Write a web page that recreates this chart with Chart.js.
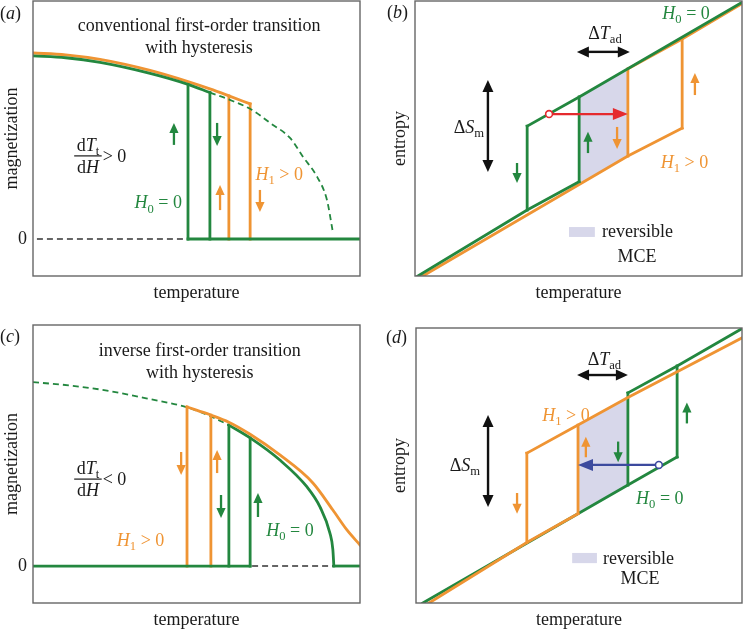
<!DOCTYPE html>
<html lang="en">
<head>
  <meta charset="UTF-8">
  <title>First-order transitions with hysteresis</title>
  <script src="https://cdn.jsdelivr.net/npm/chart.js"></script>
  <style>
    body {
      margin: 0;
      background: #fff;
      width: 743px;
      height: 631px;
      position: relative;
      overflow: hidden;
      font-family: "Liberation Serif", serif;
      color: #1a1a1a;
    }
    .panel { position: absolute; }
    .tag { position: absolute; font-size: 18px; line-height: 18px; }
  </style>
</head>
<body>

  <div class="panel" style="left:0;top:0"><canvas id="ca" width="370" height="310"></canvas></div>
  <div class="panel" style="left:370px;top:0"><canvas id="cb" width="373" height="310"></canvas></div>
  <div class="panel" style="left:0;top:310px"><canvas id="cc" width="370" height="321"></canvas></div>
  <div class="panel" style="left:370px;top:310px"><canvas id="cd" width="373" height="321"></canvas></div>

  <div class="tag" style="left:0;top:4px">(<i>a</i>)</div>
  <div class="tag" style="left:387px;top:3px">(<i>b</i>)</div>
  <div class="tag" style="left:0;top:327px">(<i>c</i>)</div>
  <div class="tag" style="left:386px;top:328px">(<i>d</i>)</div>

  <script>
    // (a) conventional transition: magnetization vs temperature, [T, M]
    const aH0Curve  = [[0, 1.0], [1.0, 0.99], [2.05, 0.965], [3.58, 0.905], [4.74, 0.845], [5.41, 0.80]];
    const aH0Hidden = [[5.41, 0.80], [6.02, 0.76], [6.70, 0.705], [7.25, 0.634], [7.86, 0.552], [8.26, 0.448], [8.69, 0.339], [8.99, 0.213], [9.17, 0.038]];
    const aH1Curve  = [[0, 1.016], [1.0, 1.006], [2.05, 0.981], [3.58, 0.921], [4.74, 0.86], [5.41, 0.82], [5.99, 0.782], [6.64, 0.738]];
    const aH0Steps  = [[4.74, 0.845], [5.41, 0.80]];
    const aH1Steps  = [[5.99, 0.782], [6.64, 0.738]];
    const aH0Zero   = [[4.74, 0], [10, 0]];
    const aZeroRef  = [[0.12, 0], [4.74, 0]];

    // (b) conventional transition: entropy vs temperature, [T, S]
    const bH0Low   = [[0.09, 0], [3.43, 2.4], [5.02, 3.43]];
    const bH0High  = [[3.43, 5.45], [5.02, 6.51], [10, 9.95]];
    const bH0Steps = [[3.43, 5.45, 2.4], [5.02, 6.51, 3.43]];
    const bH1Low   = [[0.24, 0], [6.51, 4.36], [8.17, 5.38]];
    const bH1High  = [[6.51, 7.53], [8.17, 8.62], [10, 9.9]];
    const bH1Steps = [[6.51, 7.53, 4.36], [8.17, 8.62, 5.38]];
    const bMceTop  = [[5.02, 6.51], [6.51, 7.53]];
    const bMceBot  = [[5.02, 3.33], [6.51, 4.36]];

    // (c) inverse transition: magnetization vs temperature, [T, M]
    const cH0Hidden = [[0, 1.005], [1.2, 0.985], [2.35, 0.956], [3.5, 0.915], [4.71, 0.867], [5.41, 0.82], [5.99, 0.77]];
    const cH0Curve  = [[5.99, 0.77], [6.64, 0.70], [7.55, 0.579], [8.38, 0.432], [8.78, 0.322], [9.08, 0.18], [9.17, 0.09], [9.2, 0]];
    const cH1Curve  = [[4.71, 0.869], [5.44, 0.825], [5.99, 0.786], [6.64, 0.72], [7.55, 0.607], [8.56, 0.454], [9.17, 0.306], [9.6, 0.197], [10, 0.115]];
    const cH1Steps  = [[4.71, 0.869], [5.44, 0.825]];
    const cH0Steps  = [[5.99, 0.77], [6.64, 0.70]];
    const cH0ZeroLo = [[0, 0], [6.64, 0]];
    const cH0ZeroHi = [[9.2, 0], [10, 0]];
    const cZeroRef  = [[6.7, 0], [9.2, 0]];

    // (d) inverse transition: entropy vs temperature, [T, S]
    const dH0Low   = [[0.21, 0], [6.50, 4.29], [8.01, 5.31]];
    const dH0High  = [[6.50, 7.64], [8.01, 8.62], [10, 9.98]];
    const dH0Steps = [[6.50, 7.64, 4.29], [8.01, 8.62, 5.31]];
    const dH1Low   = [[0.40, 0], [3.40, 2.2], [4.97, 3.25]];
    const dH1High  = [[3.40, 5.45], [4.97, 6.47], [6.50, 7.47], [10, 9.64]];
    const dH1Steps = [[3.40, 5.45, 2.2], [4.97, 6.47, 3.25]];
    const dMceTop  = [[4.97, 6.47], [6.50, 7.47]];
    const dMceBot  = [[4.97, 3.25], [6.50, 4.29]];

    const GREEN = '#23873f', ORANGE = '#ef9433', RED = '#e52a2e', BLUE = '#3c4a9e';
    const SHADE = '#d7d7ea', INK = '#1a1a1a', FRAME = '#666';
    const SERIF = '"Liberation Serif", "DejaVu Serif", serif';
    const FS = 18;

    function pts(arr) { return arr.map(p => ({ x: p[0], y: p[1] })); }

    function line(arr, color, extra) {
      return Object.assign({
        data: pts(arr), showLine: true, borderColor: color, borderWidth: 2.8,
        pointRadius: 0, fill: false, cubicInterpolationMode: 'monotone',
        borderCapStyle: 'square', borderJoinStyle: 'miter'
      }, extra || {});
    }
    function straight(arr, color) {
      return line(arr, color, { tension: 0, cubicInterpolationMode: 'default' });
    }
    function dashed(arr, color, w) {
      return line(arr, color, { borderWidth: w, borderDash: [6, 4], borderCapStyle: 'butt' });
    }
    // vertical jumps: [T, top, bottom]
    function steps(arr, color) {
      return arr.map(p => straight([[p[0], p[1]], [p[0], p.length > 2 ? p[2] : 0]], color));
    }
    function shade(top, bot) {
      return [
        { data: pts(top), showLine: true, borderWidth: 0, pointRadius: 0, fill: '+1', backgroundColor: SHADE },
        { data: pts(bot), showLine: true, borderWidth: 0, pointRadius: 0, fill: false }
      ];
    }

    // text helpers: *x* = italic, _x_ = subscript
    function parse(str) {
      return str.split(/(\*[^*]+\*|_[^_]+_)/).filter(Boolean).map(t =>
        t[0] === '*' ? { t: t.slice(1, -1), i: true } :
        t[0] === '_' ? { t: t.slice(1, -1), sub: true } : { t: t });
    }
    function segFont(s) {
      return (s.i ? 'italic ' : '') + (s.sub ? FS * 0.7 : FS) + 'px ' + SERIF;
    }
    function richWidth(ctx, segs) {
      let w = 0;
      segs.forEach(s => { ctx.font = segFont(s); w += ctx.measureText(s.t).width; });
      return w;
    }
    function drawRich(ctx, x, base, str, color, align) {
      const segs = parse(str);
      let cx = align === 'left' ? x : x - richWidth(ctx, segs) / 2;
      ctx.fillStyle = color;
      ctx.textAlign = 'left';
      ctx.textBaseline = 'alphabetic';
      segs.forEach(s => {
        ctx.font = segFont(s);
        ctx.fillText(s.t, cx, s.sub ? base + FS * 0.24 : base);
        cx += ctx.measureText(s.t).width;
      });
    }

    const ARROW = {
      small: { w: 2.3, hl: 10, hw: 4.6 },
      mid:   { w: 2.2, hl: 15, hw: 6 },
      big:   { w: 2.4, hl: 12, hw: 5.5 }
    };
    function arrowHead(ctx, x, y, ang, k) {
      ctx.beginPath();
      ctx.moveTo(x, y);
      ctx.lineTo(x - k.hl * Math.cos(ang) + k.hw * Math.sin(ang), y - k.hl * Math.sin(ang) - k.hw * Math.cos(ang));
      ctx.lineTo(x - k.hl * Math.cos(ang) - k.hw * Math.sin(ang), y - k.hl * Math.sin(ang) + k.hw * Math.cos(ang));
      ctx.closePath();
      ctx.fill();
    }
    function drawArrow(ctx, x1, y1, x2, y2, color, kind, both) {
      const k = ARROW[kind];
      const ang = Math.atan2(y2 - y1, x2 - x1);
      const c = Math.cos(ang), s = Math.sin(ang);
      ctx.strokeStyle = color;
      ctx.fillStyle = color;
      ctx.lineWidth = k.w;
      ctx.beginPath();
      ctx.moveTo(both ? x1 + c * (k.hl - 1) : x1, both ? y1 + s * (k.hl - 1) : y1);
      ctx.lineTo(x2 - c * (k.hl - 1), y2 - s * (k.hl - 1));
      ctx.stroke();
      arrowHead(ctx, x2, y2, ang, k);
      if (both) arrowHead(ctx, x1, y1, ang + Math.PI, k);
    }

    const notesPlugin = {
      id: 'notes',
      afterDatasetsDraw(chart, args, o) {
        const { ctx, chartArea: a } = chart;
        const X = v => chart.scales.x.getPixelForValue(v);
        const Y = v => chart.scales.y.getPixelForValue(v);
        ctx.save();
        // frame
        ctx.strokeStyle = FRAME;
        ctx.lineWidth = 1.4;
        ctx.strokeRect(a.left, a.top, a.right - a.left, a.bottom - a.top);

        (o.boxes || []).forEach(b => {
          ctx.fillStyle = SHADE;
          ctx.fillRect(X(b[0]), Y(b[3]), X(b[1]) - X(b[0]), Y(b[2]) - Y(b[3]));
        });
        (o.vArrows || []).forEach(v => drawArrow(ctx, X(v[0]), Y(v[1]), X(v[0]), Y(v[2]), v[3], v[4] || 'small', v[5]));
        (o.hArrows || []).forEach(h => drawArrow(ctx, X(h[1]), Y(h[0]), X(h[2]), Y(h[0]), h[3], h[4] || 'mid', h[5]));
        (o.rings || []).forEach(r => {
          ctx.beginPath();
          ctx.arc(X(r[0]), Y(r[1]), 3.4, 0, Math.PI * 2);
          ctx.fillStyle = '#fff';
          ctx.fill();
          ctx.strokeStyle = r[2];
          ctx.lineWidth = 1.6;
          ctx.stroke();
        });
        (o.texts || []).forEach(t => drawRich(ctx, X(t[0]), Y(t[1]) + FS * 0.33, t[2], t[3] || INK, t[4]));
        (o.fracs || []).forEach(f => {
          const cx = X(f[0]), ly = Y(f[1]);
          const wn = richWidth(ctx, parse(f[2])), wd = richWidth(ctx, parse(f[3]));
          const lw = Math.max(wn, wd) + 5;
          drawRich(ctx, cx, ly - 5, f[2], INK);
          drawRich(ctx, cx, ly + 17, f[3], INK);
          ctx.fillStyle = INK;
          ctx.fillRect(cx - lw / 2, ly - 0.6, lw, 1.2);
          drawRich(ctx, cx + lw / 2 + 1, ly + 6, f[4], INK, 'left');
        });
        ctx.restore();
      }
    };

    function panel(id, o) {
      const ds = o.datasets;
      ds.forEach((d, i) => { d.order = ds.length - i; });
      const yAxis = {
        type: 'linear', min: o.yMin, max: o.yMax,
        grid: { display: false, drawTicks: false },
        border: { display: false },
        ticks: {
          display: !!o.zeroTick, padding: 6, color: INK,
          font: { family: SERIF, size: FS },
          callback: v => (v === 0 ? '0' : '')
        },
        title: {
          display: true, text: o.yTitle, color: INK,
          font: { family: SERIF, size: FS }, padding: { top: o.yTitlePad, bottom: 0 }
        },
        afterFit: s => { s.width = o.yW; s.paddingTop = 0; s.paddingBottom = 0; }
      };
      if (o.zeroTick) yAxis.afterBuildTicks = s => { s.ticks = [{ value: 0 }]; };

      return new Chart(document.getElementById(id), {
        type: 'scatter',
        data: { datasets: ds },
        options: {
          responsive: false,
          animation: false,
          events: [],
          layout: { padding: o.pad },
          plugins: { legend: { display: false }, tooltip: { enabled: false }, notes: o.notes },
          scales: {
            x: {
              type: 'linear', min: 0, max: 10,
              grid: { display: false, drawTicks: false },
              border: { display: false },
              ticks: { display: false },
              title: {
                display: true, text: 'temperature', color: INK,
                font: { family: SERIF, size: FS }, padding: { top: 0, bottom: o.xTitlePad }
              },
              afterFit: s => { s.height = o.xH; s.paddingLeft = 0; s.paddingRight = 0; }
            },
            y: yAxis
          }
        },
        plugins: [notesPlugin]
      });
    }

    // (a)
    panel('ca', {
      yTitle: 'magnetization', yMin: -0.202, yMax: 1.3, zeroTick: true,
      pad: { left: 0, right: 10, top: 1, bottom: 0 }, yW: 33, xH: 34, xTitlePad: 6, yTitlePad: 1,
      datasets: [
        line(aH1Curve, ORANGE),
        ...steps(aH1Steps, ORANGE),
        dashed(aH0Hidden, GREEN, 1.8),
        dashed(aZeroRef, '#333', 1.5),
        line(aH0Curve, GREEN),
        ...steps(aH0Steps, GREEN),
        straight(aH0Zero, GREEN)
      ],
      notes: {
        vArrows: [[4.31, 0.514, 0.634, GREEN], [5.63, 0.634, 0.508, GREEN],
                  [5.72, 0.158, 0.295, ORANGE], [6.94, 0.268, 0.148, ORANGE]],
        texts: [[5.08, 1.169, 'conventional first-order transition', INK],
                [5.08, 1.049, 'with hysteresis', INK],
                [3.83, 0.20, '*H*_0_ = 0', GREEN],
                [7.53, 0.355, '*H*_1_ > 0', ORANGE]],
        fracs: [[1.68, 0.454, 'd*T*_t_', 'd*H*', '> 0']]
      }
    });

    // (b)
    panel('cb', {
      yTitle: 'entropy', yMin: 0, yMax: 10, zeroTick: false,
      pad: { left: 0, right: 1, top: 1, bottom: 0 }, yW: 45, xH: 34, xTitlePad: 6, yTitlePad: 19,
      datasets: [
        ...shade(bMceTop, bMceBot),
        straight(bH1Low, ORANGE),
        straight(bH1High, ORANGE),
        ...steps(bH1Steps, ORANGE),
        straight(bH0Low, GREEN),
        straight(bH0High, GREEN),
        ...steps(bH0Steps, GREEN)
      ],
      notes: {
        boxes: [[4.71, 5.50, 1.42, 1.78]],
        vArrows: [[2.23, 3.78, 7.13, '#111', 'big', true],
                  [3.12, 4.11, 3.38, GREEN], [5.29, 4.47, 5.25, GREEN],
                  [6.18, 5.42, 4.62, ORANGE], [8.56, 6.58, 7.38, ORANGE]],
        hArrows: [[8.15, 4.95, 6.57, '#111', 'big', true],
                  [5.89, 4.10, 6.51, RED, 'mid']],
        rings: [[4.10, 5.89, RED]],
        texts: [[1.65, 5.42, '\u0394*S*_m_', INK],
                [5.81, 8.84, '\u0394*T*_ad_', INK],
                [8.29, 9.56, '*H*_0_ = 0', GREEN],
                [8.24, 4.15, '*H*_1_ > 0', ORANGE],
                [5.72, 1.62, 'reversible', INK, 'left'],
                [6.79, 0.74, 'MCE', INK]]
      }
    });

    // (c)
    panel('cc', {
      yTitle: 'magnetization', yMin: -0.202, yMax: 1.317, zeroTick: true,
      pad: { left: 0, right: 10, top: 15, bottom: 0 }, yW: 33, xH: 28, xTitlePad: 0, yTitlePad: 1,
      datasets: [
        dashed(cH0Hidden, GREEN, 1.8),
        line(cH0Curve, GREEN),
        ...steps(cH0Steps, GREEN),
        line(cH1Curve, ORANGE),
        ...steps(cH1Steps, ORANGE),
        dashed(cZeroRef, '#333', 1.5),
        straight(cH0ZeroLo, GREEN),
        straight(cH0ZeroHi, GREEN)
      ],
      notes: {
        vArrows: [[4.53, 0.623, 0.497, ORANGE], [5.63, 0.508, 0.634, ORANGE],
                  [5.75, 0.388, 0.262, GREEN], [6.88, 0.268, 0.399, GREEN]],
        texts: [[5.1, 1.18, 'inverse first-order transition', INK],
                [5.1, 1.06, 'with hysteresis', INK],
                [3.29, 0.142, '*H*_1_ > 0', ORANGE],
                [7.86, 0.197, '*H*_0_ = 0', GREEN]],
        fracs: [[1.68, 0.475, 'd*T*_t_', 'd*H*', '< 0']]
      }
    });

    // (d)
    panel('cd', {
      yTitle: 'entropy', yMin: 0, yMax: 10, zeroTick: false,
      pad: { left: 0, right: 1, top: 18, bottom: 0 }, yW: 46, xH: 28, xTitlePad: 0, yTitlePad: 19,
      datasets: [
        ...shade(dMceTop, dMceBot),
        straight(dH0Low, GREEN),
        straight(dH0High, GREEN),
        ...steps(dH0Steps, GREEN),
        straight(dH1Low, ORANGE),
        straight(dH1High, ORANGE),
        ...steps(dH1Steps, ORANGE)
      ],
      notes: {
        boxes: [[4.79, 5.55, 1.45, 1.82]],
        vArrows: [[2.21, 3.49, 6.84, '#111', 'big', true],
                  [3.10, 4.0, 3.25, ORANGE], [5.21, 5.3, 6.05, ORANGE],
                  [6.20, 5.87, 5.12, GREEN], [8.31, 6.53, 7.29, GREEN]],
        hArrows: [[8.29, 4.94, 6.50, '#111', 'big', true],
                  [5.02, 7.45, 4.97, BLUE, 'mid']],
        rings: [[7.45, 5.02, BLUE]],
        texts: [[1.50, 5.02, '\u0394*S*_m_', INK],
                [5.78, 8.88, '\u0394*T*_ad_', INK],
                [4.6, 6.84, '*H*_1_ > 0', ORANGE],
                [7.48, 3.82, '*H*_0_ = 0', GREEN],
                [5.74, 1.62, 'reversible', INK, 'left'],
                [6.87, 0.91, 'MCE', INK]]
      }
    });
  </script>
</body>
</html>
